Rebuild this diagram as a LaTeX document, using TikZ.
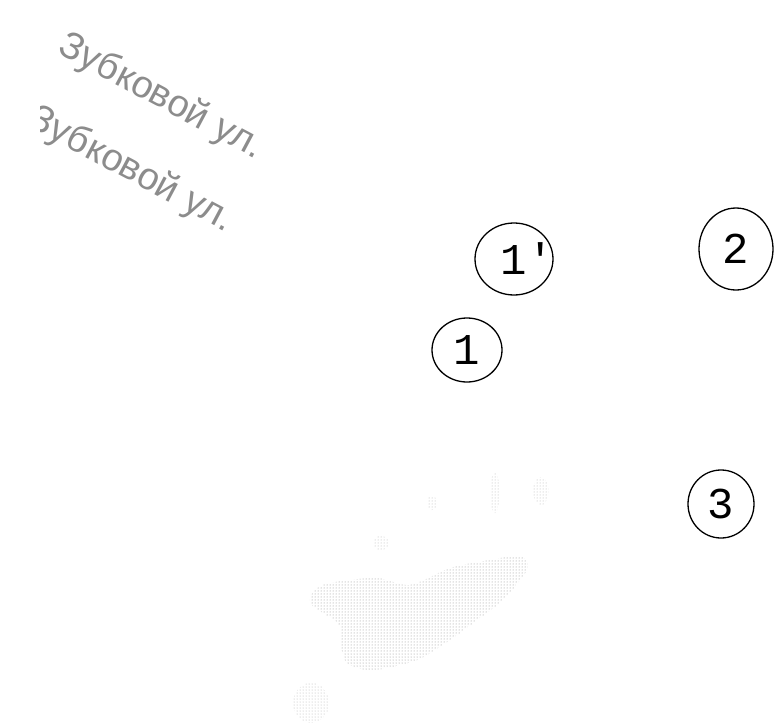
\documentclass[tikz,border=0pt]{standalone}
\usepackage{fontspec}
\setmainfont{Liberation Sans}
\newfontfamily\monof{Liberation Mono}
\usetikzlibrary{shapes.geometric,patterns}
\begin{document}
\begin{tikzpicture}[x=1pt,y=-1pt,
  ring/.style={draw=black,line width=1.3pt,ellipse,inner sep=0pt,
    font=\monof\fontsize{44}{44}\selectfont},
  street/.style={text=black!45,font=\fontsize{38}{38}\selectfont,rotate=-28,inner sep=0pt},
  smear/.style={pattern=dots,pattern color=black!45,draw=none},
  speck/.style={pattern=dots,pattern color=black!30,draw=none}]
\useasboundingbox (0,0) rectangle (774,726);
% street labels
\node[street] (s1) at (161,97) {Зубковой ул.};
\begin{scope}
  \clip (40,0) rectangle (774,726);
  \node[street] (s2) at (131,170) {Зубковой ул.};
\end{scope}
% numbered circles
\node[ring,minimum width=78pt,minimum height=72pt] (c1p) at (514,259) {1\rlap{\textquotesingle}};
\node[ring,minimum width=70pt,minimum height=64pt] (c1) at (467,350) {1};
\node[ring,minimum width=74pt,minimum height=82pt] (c2) at (736,249) {2};
\node[ring,minimum width=66pt,minimum height=68pt] (c3) at (721,504) {3};
% faint scanned smear
\fill[smear] plot[smooth cycle] coordinates {(323,585) (375,578) (410,585) (450,568) (490,560) (520,556) (528,568) (503,600) (477,620) (450,640) (417,660) (373,670) (347,663) (340,640) (338,623) (310,603)};
\fill[speck] (495,493) ellipse (5pt and 20pt);
\fill[speck] (541,491) ellipse (8pt and 14pt);
\fill[speck] (432,503) ellipse (5pt and 7pt);
\fill[speck] (381,543) ellipse (8pt and 7pt);
\fill[speck] (311,703) ellipse (18pt and 20pt);
\end{tikzpicture}
\end{document}
